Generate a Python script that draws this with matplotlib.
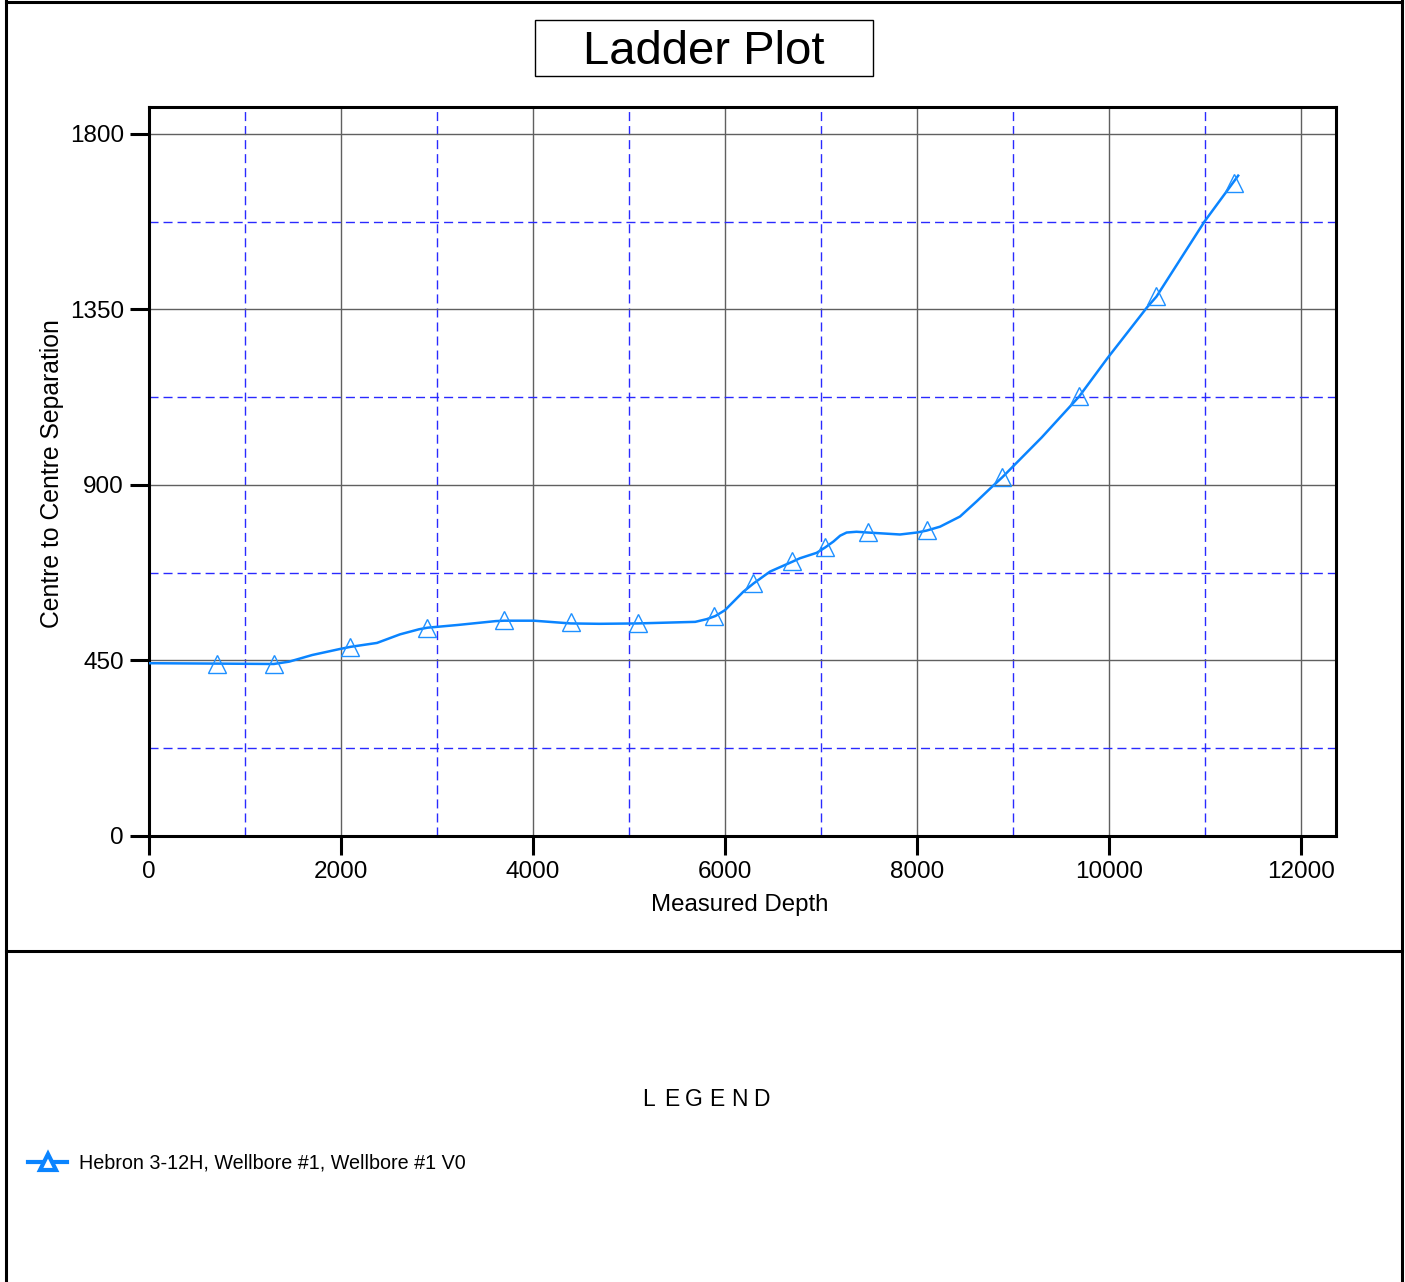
"""
Ladder plot: centre to centre separation against measured depth.
Run:  python plot.py
"""

import matplotlib
matplotlib.use("Agg")
import matplotlib.pyplot as plt
from matplotlib.lines import Line2D
from matplotlib.patches import Rectangle
from matplotlib.ticker import MultipleLocator

plt.rcParams["font.family"] = ["Liberation Sans", "DejaVu Sans"]

# curve
depth = [0, 700, 1300, 1460, 1700, 1980, 2100, 2375, 2615, 2813, 2900, 3215,
         3614, 3700, 4010, 4390, 4690, 5090, 5690, 5810, 5900, 6000, 6190,
         6300, 6470, 6700, 6780, 6955, 7045, 7130, 7200, 7267, 7370, 7490,
         7823, 7997, 8100, 8240, 8448, 8622, 8780, 8890, 9300, 9690, 9984,
         10402, 10495, 10994, 11346]
separation = [443, 442, 441, 447, 464, 479, 485, 495, 517, 530, 534, 541,
              551, 552, 552, 545, 544, 545, 549, 556, 564, 579, 626,
              648, 678, 703, 712, 726, 740, 755, 770, 778, 780, 778,
              773, 778, 783, 793, 819, 858, 895, 920, 1022, 1127, 1225,
              1357, 1383, 1575, 1693]

# triangle markers along the curve
marker_depth = [705, 1300, 2095, 2895, 3695, 4395, 5090, 5890, 6295, 6695,
                7042, 7492, 8100, 8890, 9690, 10495, 11300]
marker_sep = [441, 441, 485, 534, 553, 548, 547, 564, 648, 705,
              742, 779, 784, 921, 1127, 1384, 1673]

x_ticks = [0, 2000, 4000, 6000, 8000, 10000, 12000]
y_ticks = [0, 450, 900, 1350, 1800]

title = "Ladder Plot"
series_name = "Hebron 3-12H, Wellbore #1, Wellbore #1 V0"

LINE_C = "#0a84ff"
MARK_C = "#1e90ff"

W, H = 1405, 1282
fig = plt.figure(figsize=(W / 100, H / 100), dpi=100)


def fx(px):
    return px / W


def fy(py):
    return 1 - py / H


ax = fig.add_axes([fx(149), fy(836), fx(1336) - fx(149), fy(107) - fy(836)])

ax.plot(depth, separation, color=LINE_C, lw=1.8, zorder=3,
        solid_joinstyle="round")
ax.plot(marker_depth, marker_sep, ls="none", marker="^", markersize=13,
        markerfacecolor="none", markeredgecolor=MARK_C, mew=1.0, zorder=4)

ax.set_xlim(0, 12365)
ax.set_ylim(0, 1869)
ax.set_xticks(x_ticks)
ax.set_yticks(y_ticks)
ax.xaxis.set_minor_locator(MultipleLocator(1000))
ax.yaxis.set_minor_locator(MultipleLocator(225))

ax.tick_params(which="major", direction="out", length=14, width=2.2,
               labelsize=17.5, pad=4)
ax.tick_params(which="minor", length=0)
ax.set_axisbelow(True)
ax.grid(which="major", color="#606060", lw=1.0, ls="-")
ax.grid(which="minor", color="#2a2aff", lw=1.0, ls=(0, (6.5, 3.6)))
for s in ax.spines.values():
    s.set_linewidth(2.2)

ax.set_xlabel("Measured Depth", fontsize=17.3)
ax.set_ylabel("Centre to Centre Separation", fontsize=17.8)
ax.xaxis.set_label_coords(0.498, -0.08)
ax.yaxis.set_label_coords(-0.0716, 0.497)

# title box
fig.add_artist(Rectangle((fx(535), fy(76)), fx(873) - fx(535), fy(20) - fy(76),
                         transform=fig.transFigure, fill=False, lw=1.0,
                         edgecolor="black"))
fig.text(fx(704), fy(52), title, fontsize=34, ha="center", va="center")

# outer frame + divider
for xs, ys in [([6, 6], [0, H]), ([1402, 1402], [0, H]),
               ([6, 1402], [2, 2]), ([6, 1402], [951, 951])]:
    fig.add_artist(Line2D([fx(v) for v in xs], [fy(v) for v in ys],
                          transform=fig.transFigure, color="black", lw=2.2))

# spaced LEGEND heading
for i, ch in enumerate("LEGEND"):
    fig.text(fx(649 + i * 22.5), fy(1099), ch, fontsize=16.5, ha="center",
             va="center")

handle = Line2D([], [], color=LINE_C, lw=3, marker="^", markersize=12,
                markerfacecolor="white", markeredgecolor=LINE_C, mew=3)
fig.legend([handle], [series_name], loc="center left",
           bbox_to_anchor=(fx(28), fy(1163)), frameon=False, borderpad=0,
           borderaxespad=0, handlelength=2.0, handletextpad=0.6,
           fontsize=14.2)

plt.savefig("out.png", dpi=100)
